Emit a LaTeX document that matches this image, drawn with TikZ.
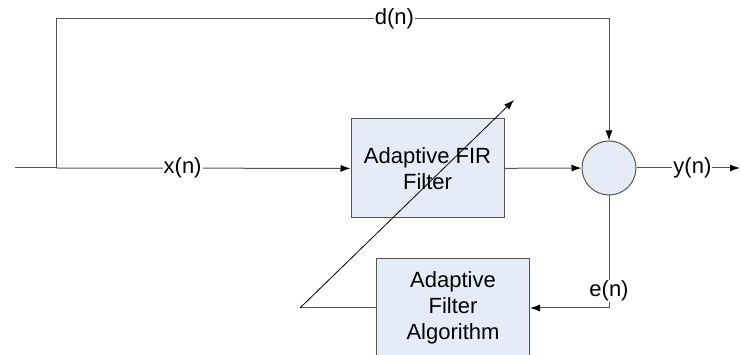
\documentclass[tikz,border=0pt]{standalone}
\usepackage{fontspec}
\setmainfont{Liberation Sans}
\usetikzlibrary{arrows.meta}

\definecolor{boxfill}{HTML}{E6ECF7}
\definecolor{wiregray}{HTML}{555555}

\tikzset{
  block/.style={draw=wiregray, fill=boxfill, align=center, line width=1pt,
    minimum width=153pt, minimum height=99pt, inner sep=0pt},
  summer/.style={circle, draw=wiregray, fill=boxfill, line width=1pt,
    minimum size=54pt, inner sep=0pt},
  wire/.style={draw=wiregray, line width=1pt},
  sig/.style={wire, -{Latex[length=10pt,width=7pt,black]}},
  lbl/.style={fill=white, inner sep=1pt},
}

\begin{document}
\begin{tikzpicture}[x=1pt, y=-1pt, font=\fontsize{22}{26}\selectfont]
\clip (0,0) rectangle (740,355);

\node[block] (fir) at (427.5,168.5) {Adaptive FIR\\Filter};
\node[summer] (sum) at (609,168) {};
\node[block] (alg) at (453,308) {Adaptive\\Filter\\Algorithm};

\coordinate (in) at (15,168);
\coordinate (tap) at (56,168);
\coordinate (top) at (56,19);
\coordinate (out) at (740,168);
\coordinate (pivot) at (300,308);
\coordinate (tip) at (514,100);

% input and reference path
\draw[wire] (in) -- (tap);
\draw[sig] (tap) -- node[lbl, pos=0.43] {x(n)} (fir);
\draw[sig] (tap) -- (top) -| node[lbl, pos=0.306] {d(n)} (sum);

% filter output and error
\draw[sig] (fir) -- (sum);
\draw[sig] (sum) -- node[lbl, pos=0.54] {y(n)} (out);
\draw[sig] (sum) |- node[lbl, pos=0.425] {e(n)} (alg);

% coefficient update
\draw[wire] (alg) -- (pivot);
\draw[-{Latex[length=10pt,width=7pt]}, line width=0.8pt] (pivot) -- (tip);
\end{tikzpicture}
\end{document}
